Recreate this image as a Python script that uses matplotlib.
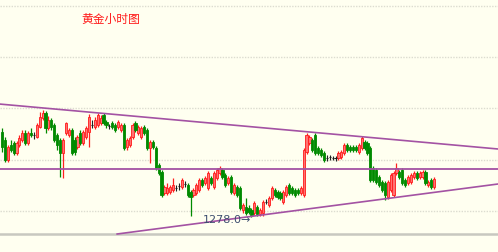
import matplotlib
matplotlib.use("Agg")
import matplotlib.pyplot as plt
import numpy as np

# hourly gold candles (open, close, high, low), oldest first
opens = [1286.5, 1285.7, 1283.7, 1285.2, 1285.4, 1284.4, 1285.2, 1285.7, 1286.4, 1285.4,
         1286.4, 1286.2, 1286.0, 1287.0, 1287.9, 1288.4, 1286.9, 1287.7, 1287.2, 1286.2,
         1285.7, 1284.4, 1286.4, 1286.2, 1286.7, 1285.7, 1285.0, 1286.4, 1285.4, 1286.0,
         1286.5, 1287.2, 1287.0, 1287.2, 1287.4, 1288.2, 1287.5, 1287.1, 1287.4, 1287.2,
         1287.0, 1286.7, 1287.2, 1285.0, 1285.2, 1286.0, 1287.4, 1286.4, 1286.0, 1287.0,
         1286.7, 1284.9, 1285.5, 1284.9, 1283.2, 1282.5, 1280.4, 1280.4, 1280.5, 1280.7,
         1280.9, 1281.1, 1281.0, 1281.3, 1281.2, 1280.5, 1280.2, 1280.4, 1280.7, 1281.7,
         1281.4, 1280.9, 1281.9, 1281.0, 1281.9, 1282.4, 1282.7, 1282.2, 1281.4, 1282.0,
         1280.4, 1281.0, 1280.9, 1278.7, 1279.0, 1278.9, 1278.7, 1278.4, 1279.0, 1278.3,
         1278.4, 1279.5, 1279.2, 1279.9, 1280.7, 1280.5, 1280.4, 1279.5, 1280.2, 1281.2,
         1280.9, 1280.7, 1280.7, 1280.4, 1280.2, 1284.5, 1285.4, 1285.7, 1286.2, 1284.9,
         1284.7, 1284.4, 1283.9, 1284.0, 1283.9, 1283.9, 1283.9, 1284.0, 1284.4, 1285.2,
         1285.0, 1285.0, 1285.0, 1284.5, 1284.9, 1285.5, 1285.4, 1284.9, 1282.9, 1282.7,
         1282.0, 1281.5, 1281.4, 1280.0, 1280.7, 1280.2, 1282.4, 1282.5, 1282.7, 1281.7,
         1281.4, 1281.5, 1282.0, 1282.4, 1282.0, 1282.0, 1282.5, 1281.2, 1281.7, 1281.0]
closes = [1285.0, 1283.7, 1285.0, 1284.7, 1284.4, 1285.4, 1285.9, 1286.4, 1285.4, 1286.4,
          1286.2, 1286.2, 1287.2, 1288.0, 1288.4, 1286.9, 1287.7, 1287.0, 1285.7, 1285.2,
          1284.4, 1285.7, 1287.4, 1286.7, 1284.4, 1284.5, 1286.0, 1285.4, 1286.5, 1286.9,
          1288.0, 1287.2, 1287.7, 1288.2, 1287.9, 1287.4, 1287.2, 1287.1, 1287.0, 1286.7,
          1287.5, 1287.2, 1284.9, 1285.7, 1285.9, 1287.2, 1286.7, 1287.0, 1286.9, 1286.4,
          1284.9, 1285.5, 1285.0, 1282.9, 1282.4, 1280.2, 1281.0, 1280.9, 1281.0, 1281.2,
          1280.9, 1281.1, 1281.7, 1281.3, 1280.2, 1280.0, 1280.7, 1281.2, 1281.7, 1281.2,
          1281.9, 1282.4, 1281.4, 1282.4, 1282.7, 1282.9, 1282.0, 1281.2, 1281.9, 1280.5,
          1281.2, 1280.2, 1278.9, 1279.2, 1278.4, 1278.5, 1278.2, 1279.4, 1278.3, 1278.7,
          1279.5, 1279.5, 1279.9, 1280.9, 1280.2, 1280.0, 1279.9, 1280.5, 1281.0, 1280.4,
          1280.4, 1280.2, 1280.4, 1280.9, 1284.7, 1286.2, 1286.0, 1284.7, 1284.4, 1284.4,
          1284.2, 1283.7, 1283.9, 1284.0, 1283.9, 1283.9, 1284.4, 1284.5, 1285.2, 1284.7,
          1284.7, 1284.7, 1284.7, 1285.2, 1285.9, 1284.9, 1284.4, 1281.7, 1281.7, 1281.5,
          1281.2, 1280.7, 1280.2, 1281.5, 1282.2, 1282.4, 1282.9, 1282.0, 1281.4, 1281.2,
          1282.0, 1282.2, 1282.4, 1281.9, 1282.4, 1282.5, 1281.4, 1281.5, 1281.0, 1281.8]
highs = [1286.9, 1286.0, 1285.2, 1285.7, 1285.6, 1285.6, 1286.2, 1286.7, 1286.7, 1286.6,
         1286.9, 1286.5, 1287.4, 1288.5, 1288.7, 1288.6, 1288.1, 1287.9, 1287.4, 1286.4,
         1285.9, 1285.9, 1287.5, 1286.9, 1286.9, 1286.0, 1286.2, 1286.7, 1286.7, 1287.1,
         1288.3, 1287.7, 1288.0, 1288.4, 1288.2, 1288.4, 1287.7, 1287.3, 1287.6, 1287.4,
         1287.7, 1287.4, 1287.4, 1285.9, 1286.1, 1287.4, 1287.6, 1287.2, 1287.1, 1287.2,
         1286.9, 1285.7, 1285.7, 1285.1, 1283.4, 1282.7, 1281.2, 1281.4, 1281.2, 1281.9,
         1281.2, 1281.4, 1281.9, 1281.6, 1281.4, 1280.7, 1280.9, 1281.4, 1281.9, 1281.9,
         1282.1, 1282.6, 1282.1, 1282.6, 1282.9, 1283.1, 1282.9, 1282.4, 1282.1, 1282.2,
         1281.4, 1281.2, 1281.1, 1279.4, 1279.9, 1279.2, 1278.9, 1279.6, 1279.2, 1278.9,
         1279.7, 1279.8, 1280.1, 1281.1, 1280.9, 1280.7, 1280.6, 1280.7, 1281.2, 1281.4,
         1281.1, 1280.9, 1280.9, 1281.1, 1284.9, 1286.4, 1286.2, 1285.9, 1286.4, 1285.1,
         1284.9, 1284.6, 1284.2, 1284.2, 1284.1, 1284.1, 1284.6, 1284.7, 1285.4, 1285.4,
         1285.2, 1285.2, 1285.2, 1285.4, 1286.1, 1285.7, 1285.6, 1285.1, 1283.1, 1282.9,
         1282.2, 1281.7, 1281.6, 1281.7, 1282.4, 1282.6, 1283.4, 1282.7, 1282.9, 1281.9,
         1282.2, 1282.4, 1282.6, 1282.6, 1282.6, 1282.7, 1282.7, 1281.7, 1281.9, 1282.0]
lows = [1284.5, 1283.5, 1283.5, 1284.5, 1284.2, 1284.2, 1285.0, 1285.5, 1285.2, 1285.2,
        1286.0, 1285.8, 1285.9, 1286.9, 1287.7, 1286.4, 1286.7, 1286.7, 1285.5, 1284.7,
        1282.0, 1281.9, 1286.2, 1286.0, 1284.2, 1284.2, 1284.8, 1285.2, 1285.2, 1285.8,
        1285.0, 1286.9, 1286.8, 1287.0, 1287.2, 1287.2, 1286.9, 1286.8, 1286.8, 1286.5,
        1286.8, 1286.5, 1284.7, 1284.7, 1285.0, 1285.8, 1286.5, 1286.2, 1285.8, 1286.2,
        1284.7, 1283.4, 1284.8, 1282.7, 1282.2, 1280.0, 1280.2, 1280.2, 1280.3, 1280.5,
        1280.6, 1280.7, 1280.8, 1281.0, 1280.0, 1278.1, 1280.0, 1280.2, 1280.5, 1281.0,
        1281.2, 1280.7, 1281.2, 1280.8, 1281.7, 1282.2, 1281.8, 1281.0, 1281.2, 1280.3,
        1280.2, 1280.0, 1278.7, 1278.4, 1278.2, 1278.3, 1278.0, 1278.2, 1278.1, 1278.1,
        1278.1, 1279.3, 1279.0, 1279.7, 1280.0, 1279.8, 1279.7, 1279.3, 1280.0, 1280.2,
        1280.2, 1280.0, 1280.2, 1280.2, 1280.0, 1284.3, 1285.2, 1284.5, 1284.2, 1284.2,
        1284.0, 1283.5, 1283.6, 1283.7, 1283.7, 1283.6, 1283.7, 1283.8, 1284.2, 1284.5,
        1284.5, 1284.5, 1284.5, 1284.3, 1284.7, 1284.7, 1284.2, 1281.5, 1281.5, 1281.3,
        1281.0, 1280.5, 1279.7, 1279.8, 1280.5, 1280.0, 1282.2, 1281.8, 1281.2, 1281.0,
        1281.2, 1281.3, 1281.8, 1281.7, 1281.8, 1281.8, 1281.2, 1281.0, 1280.8, 1280.8]

title = "黄金小时图"
grid_levels = [1299.1, 1294.0, 1288.9, 1283.7, 1278.6]
support_level = 1282.8
upper_trend = ([-1.0, 171.0], [1289.3, 1284.8])
lower_trend = ([39.7, 171.0], [1276.3, 1281.3])
floor_level = 1276.3

bg = "#fffff0"
fig = plt.figure(figsize=(4.98, 2.52), dpi=100, facecolor=bg)
ax = fig.add_axes([0, 0, 1, 1])
ax.set_facecolor(bg)

o = np.array(opens); c = np.array(closes)
h = np.array(highs); l = np.array(lows)
x = np.arange(len(o))

# grid
for g in grid_levels:
    ax.axhline(g, color="#dcdcd0", lw=1, ls=(0, (1, 1)), zorder=0)
ax.axhline(floor_level, color="#c8c8c0", lw=1.8, zorder=1)

# candles
up = c > o
down = c < o
flat = c == o
ax.vlines(x[up], l[up], h[up], color="#ff2020", lw=0.9, zorder=3)
ax.vlines(x[down], l[down], h[down], color="#008a00", lw=0.9, zorder=3)
ax.vlines(x[flat], l[flat], h[flat], color="#202020", lw=0.8, zorder=3)
w = 0.75
ax.bar(x[up], c[up] - o[up], w, bottom=o[up], color="#ff7272",
       edgecolor="#ff1a1a", lw=0.6, zorder=4)
ax.bar(x[down], c[down] - o[down], w, bottom=o[down], color="#008a00",
       edgecolor="#008a00", lw=0.6, zorder=4)
ax.hlines(c[flat], x[flat] - w / 2, x[flat] + w / 2, color="#202020", lw=0.8, zorder=4)

# trend lines
lc = "#a352a3"
ax.axhline(support_level, color=lc, lw=1.3, zorder=5)
ax.plot(*upper_trend, color=lc, lw=1.2, zorder=5)
ax.plot(*lower_trend, color=lc, lw=1.2, zorder=5)

# lowest price marker
i_low = int(np.argmin(l))
ax.text(i_low, l[i_low] - 0.3, "%.1f\u2192" % l[i_low], ha="right", va="center",
        fontsize=8, color="#3c4d6e", zorder=6)

fig.text(81 / 498, 1 - 19 / 252, title, ha="left", va="center", fontsize=8.5,
         color="#ff1a1a", family=["Noto Sans CJK SC", "DejaVu Sans"])

ax.set_xlim(-0.69, 171.0)
ax.set_ylim(1274.5, 1299.7)
ax.axis("off")
fig.savefig("out.png", dpi=100, facecolor=bg)
